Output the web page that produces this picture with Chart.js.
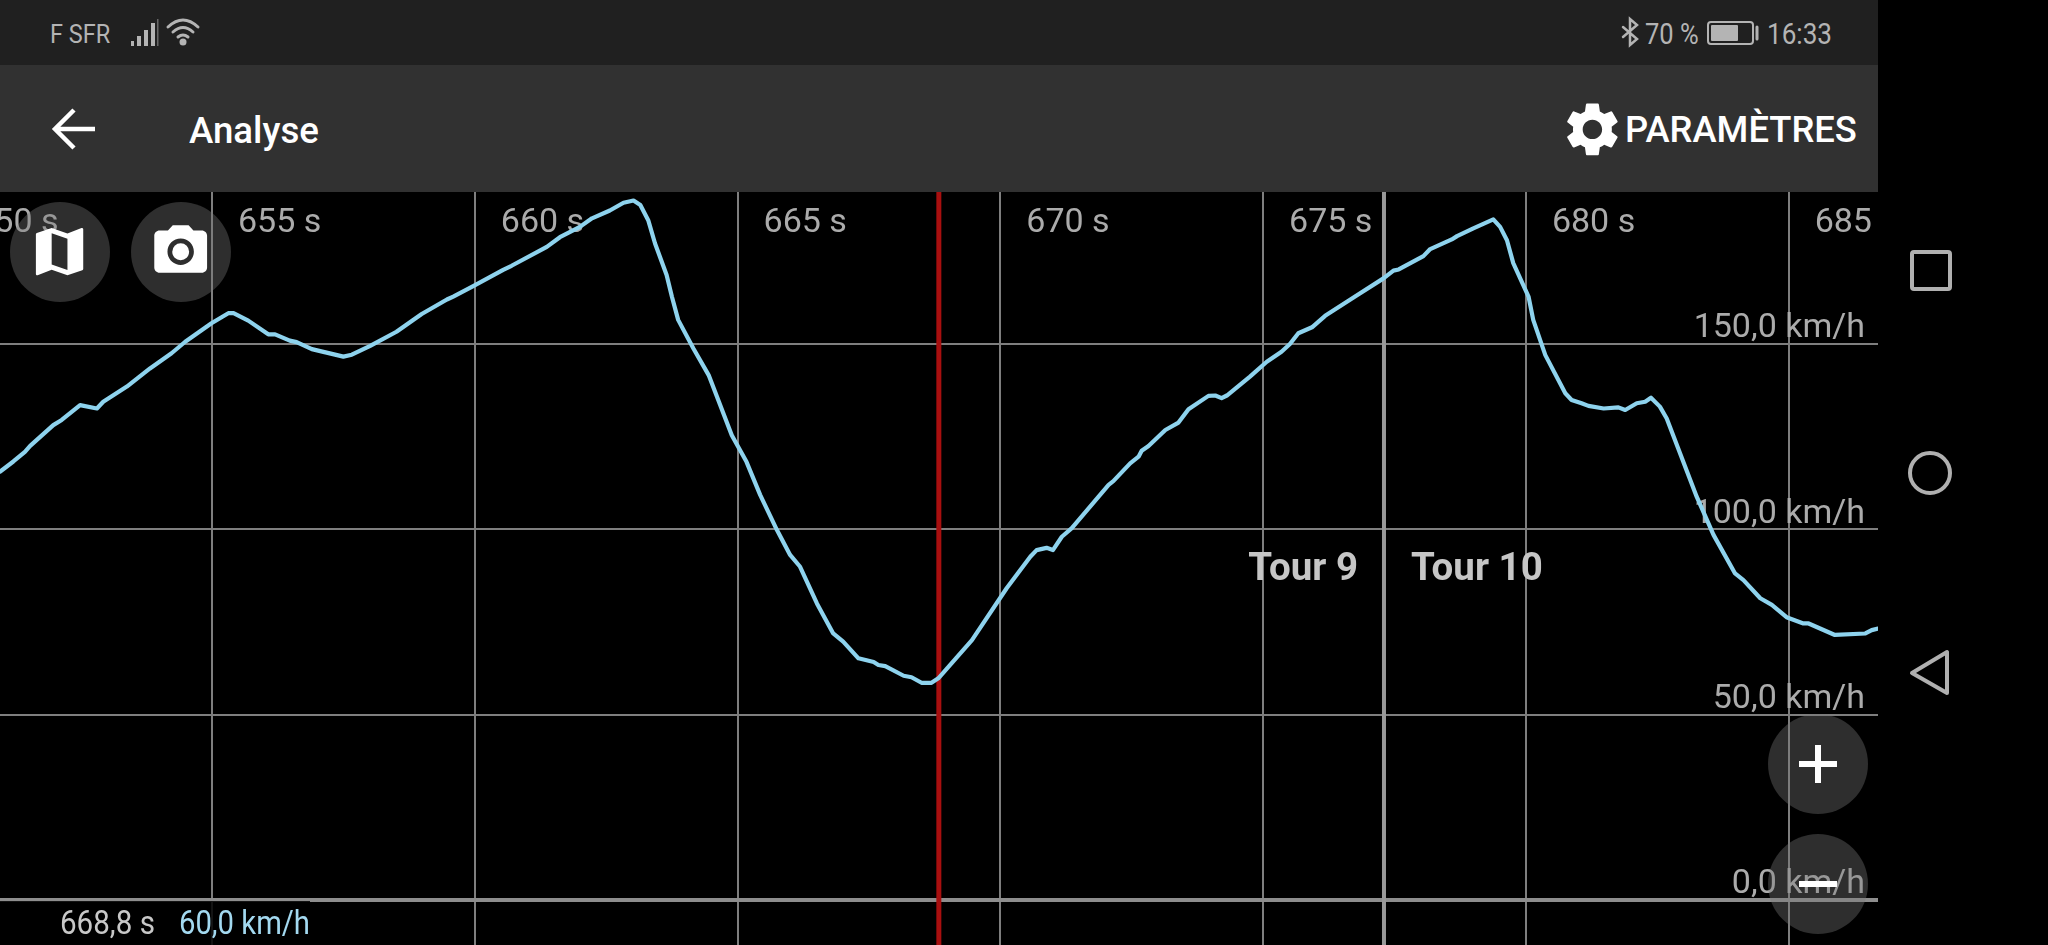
<!DOCTYPE html>
<html lang="fr">
<head>
<meta charset="utf-8">
<title>Analyse</title>
<script src="https://cdn.jsdelivr.net/npm/chart.js@4/dist/chart.umd.min.js"></script>
<style>
html, body { margin: 0; background: #000; }
body { width: 2048px; height: 945px; overflow: hidden; position: relative; font-family: Roboto, sans-serif; }
#status { position: absolute; left: 0; top: 0; width: 1878px; height: 65px; background: #202020; }
#appbar { position: absolute; left: 0; top: 65px; width: 1878px; height: 127px; background: #313131; }
#chart { position: absolute; left: 0; top: 192px; }
.txt { position: absolute; white-space: nowrap; line-height: 1; transform-origin: left top; }
.round { position: absolute; width: 100px; height: 100px; border-radius: 50%; background: rgba(120,120,120,.38); }
#readout { position: absolute; left: 0; top: 901px; width: 310px; height: 44px; background: rgba(0,0,0,.85); }
svg { position: absolute; left: 0; top: 0; overflow: visible; }
</style>
</head>
<body>
<canvas id="chart" width="1878" height="753"></canvas>
<div id="status"></div>
<div id="appbar"></div>

<div class="round" style="left:10px;top:202px"></div>
<div class="round" style="left:131px;top:202px"></div>
<div class="round" style="left:1768px;top:714px"></div>
<div class="round" style="left:1768px;top:834px"></div>
<div id="readout"></div>

<div class="txt" style="left:50px;top:22px;font-size:25px;color:#b4b4b4;transform:scaleX(.94)">F SFR</div>
<div class="txt" style="left:1645px;top:20px;font-size:29px;color:#b4b4b4;transform:scaleX(.88)">70 %</div>
<div class="txt" style="left:1767px;top:20px;font-size:29px;color:#b4b4b4;transform:scaleX(.9)">16:33</div>
<div class="txt" style="left:189px;top:112px;font-size:37px;font-weight:500;color:#fff;transform:scaleX(.99)">Analyse</div>
<div class="txt" style="left:1625px;top:112px;font-size:36px;font-weight:500;color:#fff;transform:scaleX(1.01)">PARAMÈTRES</div>
<div class="txt" style="left:60px;top:905px;font-size:34px;color:#c8c8c8;transform:scaleX(.87)">668,8 s</div>
<div class="txt" style="left:179px;top:905px;font-size:34px;color:#a3d9f0;transform:scaleX(.86)">60,0 km/h</div>

<svg width="2048" height="945">
  <!-- status bar icons -->
  <g fill="#b4b4b4">
    <rect x="131" y="41" width="3" height="5"/><rect x="137" y="36" width="4" height="10"/>
    <rect x="144" y="30" width="4" height="16"/><rect x="151" y="23" width="4" height="23"/>
    <rect x="157" y="19" width="1.5" height="27" fill="#666"/>
    <circle cx="183" cy="42" r="3.5"/>
  </g>
  <g fill="none" stroke="#b4b4b4" stroke-width="3" stroke-linecap="round">
    <path d="M168 27 Q183 13 198 27"/><path d="M173 32 Q183 23 193 32"/><path d="M178 37 Q183 33 188 37"/>
    <path d="M1623 27 L1637 39 L1630 45 V19 L1637 25 L1623 37" stroke-width="2.5"/>
    <rect x="1708" y="22" width="45" height="22" rx="3" stroke-width="2"/>
    <path d="M1757 27 V39" stroke-width="3"/>
  </g>
  <rect x="1711" y="25" width="27" height="16" rx="1" fill="#b4b4b4"/>

  <!-- app bar icons -->
  <path d="M95 129 H57 M74 110 L55 129 L74 148" fill="none" stroke="#fff" stroke-width="4.5"/>
  <path transform="translate(1560 97) scale(2.7)" fill="#fff" d="M19.14,12.94c0.04-0.3,0.06-0.61,0.06-0.94c0-0.32-0.02-0.64-0.07-0.94l2.03-1.58c0.18-0.14,0.23-0.41,0.12-0.61 l-1.92-3.32c-0.12-0.22-0.37-0.29-0.59-0.22l-2.39,0.96c-0.5-0.38-1.03-0.7-1.62-0.94L14.4,2.81c-0.04-0.24-0.24-0.41-0.48-0.41 h-3.84c-0.24,0-0.43,0.17-0.47,0.41L9.25,5.35C8.66,5.59,8.12,5.92,7.63,6.29L5.24,5.33c-0.22-0.08-0.47,0-0.59,0.22L2.74,8.87 C2.62,9.08,2.66,9.34,2.86,9.48l2.03,1.58C4.84,11.36,4.8,11.69,4.8,12s0.02,0.64,0.07,0.94l-2.03,1.58 c-0.18,0.14-0.23,0.41-0.12,0.61l1.92,3.32c0.12,0.22,0.37,0.29,0.59,0.22l2.39-0.96c0.5,0.38,1.03,0.7,1.62,0.94l0.36,2.54 c0.05,0.24,0.24,0.41,0.48,0.41h3.84c0.24,0,0.44-0.17,0.47-0.41l0.36-2.54c0.59-0.24,1.13-0.56,1.62-0.94l2.39,0.96 c0.22,0.08,0.47,0,0.59-0.22l1.92-3.32c0.12-0.22,0.07-0.47-0.12-0.61L19.14,12.94z M12,15.6c-1.98,0-3.6-1.62-3.6-3.6 s1.62-3.6,3.6-3.6s3.6,1.62,3.6,3.6S13.98,15.6,12,15.6z"/>

  <!-- floating buttons -->
  <path transform="translate(28 220) scale(2.63)" fill="#fff" d="M20.5 3l-.16.03L15 5.1 9 3 3.36 4.9c-.21.07-.36.25-.36.48V20.5c0 .28.22.5.5.5l.16-.03L9 18.9l6 2.1 5.64-1.9c.21-.07.36-.25.36-.48V3.5c0-.28-.22-.5-.5-.5zM15 19l-6-2.11V5l6 2.11V19z"/>
  <g transform="translate(149 220) scale(2.64)" fill="#fff">
    <circle cx="12" cy="12" r="3.2"/>
    <path d="M9 2L7.17 4H4c-1.1 0-2 .9-2 2v12c0 1.1.9 2 2 2h16c1.1 0 2-.9 2-2V6c0-1.1-.9-2-2-2h-3.17L15 2H9zm3 15c-2.76 0-5-2.24-5-5s2.24-5 5-5 5 2.24 5 5-2.24 5-5 5z"/>
  </g>
  <path d="M1818 745 V783 M1799 764 H1837 M1799 884 H1837" stroke="#fff" stroke-width="6" fill="none"/>

  <!-- android nav bar -->
  <g fill="none" stroke="#b0b0b0" stroke-width="4" stroke-linejoin="round">
    <rect x="1912" y="252" width="38" height="37" rx="2"/>
    <circle cx="1930" cy="473" r="20"/>
    <path d="M1912 673 L1947 652 V693 Z"/>
  </g>
</svg>

<script>
// temps (s) et vitesse (km/h)
const timeValues = [
    650.97, 651.22, 651.44, 651.54, 651.98, 652.14, 652.49, 652.81, 652.93, 653.38,
    653.82, 654.23, 654.49, 654.99, 655.31, 655.41, 655.69, 656.07, 656.20, 656.48,
    656.61, 656.90, 657.50, 657.66, 658.01, 658.51, 658.99, 659.47, 659.59, 659.97,
    660.54, 660.70, 661.37, 661.62, 662.00, 662.23, 662.57, 662.83, 663.02, 663.15,
    663.30, 663.43, 663.65, 663.75, 663.87, 664.16, 664.45, 664.89, 665.17, 665.43,
    665.75, 666.00, 666.19, 666.51, 666.82, 667.01, 667.30, 667.59, 667.68, 667.81,
    668.16, 668.31, 668.50, 668.69, 668.82, 669.46, 670.12, 670.57, 670.69, 670.88,
    671.00, 671.17, 671.36, 672.06, 672.15, 672.47, 672.63, 672.69, 672.82, 673.14,
    673.39, 673.58, 673.96, 674.09, 674.21, 674.31, 674.75, 675.07, 675.35, 675.51,
    675.67, 675.93, 676.18, 676.75, 677.29, 677.48, 677.58, 678.05, 678.18, 678.59,
    678.69, 679.00, 679.38, 679.51, 679.64, 679.76, 680.05, 680.14, 680.37, 680.75,
    680.87, 681.06, 681.19, 681.48, 681.76, 681.89, 682.11, 682.27, 682.38, 682.55,
    682.68, 683.25, 683.57, 683.98, 684.14, 684.46, 684.68, 684.96, 685.28, 685.38,
    685.88, 686.46, 686.58, 686.70
];
const speedValues = [
    115.6, 118.3, 120.9, 122.5, 128.1, 129.5, 133.5, 132.6, 134.4, 138.5,
    143.4, 147.5, 150.6, 155.6, 158.3, 158.3, 156.3, 152.6, 152.6, 150.9,
    150.5, 148.6, 146.6, 147.1, 149.5, 153.3, 158.1, 162.0, 162.8, 165.6,
    170.0, 171.1, 176.2, 178.8, 181.6, 183.9, 186.0, 188.1, 188.7, 187.5,
    183.4, 177.1, 168.6, 162.8, 156.5, 148.8, 141.6, 125.4, 118.2, 109.3,
    99.8, 93.1, 89.9, 80.0, 71.9, 69.7, 65.2, 64.2, 63.4, 63.1,
    60.5, 60.1, 58.6, 58.6, 59.8, 70.1, 84.1, 92.6, 94.4, 95.0,
    94.4, 98.0, 100.3, 112.0, 113.0, 117.8, 119.6, 121.2, 122.5, 126.8,
    128.8, 132.4, 136.0, 136.1, 135.4, 136.1, 141.2, 145.2, 147.9, 150.0,
    152.9, 154.5, 157.6, 162.8, 167.7, 169.8, 170.1, 173.7, 175.6, 178.2,
    179.1, 181.2, 183.6, 181.6, 178.0, 171.8, 162.8, 156.5, 147.0, 136.7,
    134.9, 134.0, 133.3, 132.6, 132.9, 132.2, 134.0, 134.4, 135.5, 133.1,
    129.9, 108.8, 98.5, 88.1, 86.3, 81.4, 79.6, 76.3, 74.6, 74.6,
    71.5, 71.9, 72.8, 73.2
];

const xTicks = [650, 655, 660, 665, 670, 675, 680, 685];
const xTickLabels = ['650 s', '655 s', '660 s', '665 s', '670 s', '675 s', '680 s', '685 s'];
const yTicks = [0, 50, 100, 150];
const yTickLabels = ['0,0 km/h', '50,0 km/h', '100,0 km/h', '150,0 km/h'];

const xRange = [650.966, 686.70];
const yRange = [-12.14, 191];
const cursorTime = 668.83;
const lapTime = 677.30;
const lapLabels = ['Tour 9', 'Tour 10'];
const lapLabelSpeed = 86.3;

function toPoints(xs, ys) {
    return xs.map((x, i) => ({ x: x, y: ys[i] }));
}

// l'axe ne doit prendre aucune place : la zone de tracé occupe tout le canvas
function noAxisSpace(scale) {
    if (scale.isHorizontal()) scale.height = 0;
    else scale.width = 0;
    scale.paddingTop = scale.paddingBottom = scale.paddingLeft = scale.paddingRight = 0;
}

// libellés des tours de part et d'autre de la ligne de tour
const lapLabelPlugin = {
    id: 'lapLabels',
    afterDraw(chart) {
        const ctx = chart.ctx;
        const x = chart.scales.x.getPixelForValue(lapTime);
        const y = chart.scales.y.getPixelForValue(lapLabelSpeed);
        ctx.save();
        ctx.font = '700 38.5px Roboto';
        ctx.fillStyle = '#c6c6c6';
        ctx.textBaseline = 'alphabetic';
        ctx.textAlign = 'right';
        ctx.fillText(lapLabels[0], x - 26, y);
        ctx.textAlign = 'left';
        ctx.fillText(lapLabels[1], x + 27, y);
        ctx.restore();
    }
};

new Chart(document.getElementById('chart'), {
    type: 'line',
    plugins: [lapLabelPlugin],
    data: {
        datasets: [
            {
                label: 'Vitesse',
                data: toPoints(timeValues, speedValues),
                borderColor: '#8ed3ee',
                borderWidth: 4.2,
                borderJoinStyle: 'round',
                borderCapStyle: 'round',
                pointRadius: 0,
                tension: 0,
                order: 0
            },
            {
                label: 'Curseur',
                data: toPoints([cursorTime, cursorTime], yRange),
                borderColor: '#a80f0f',
                borderWidth: 5,
                pointRadius: 0,
                order: 1
            },
            {
                label: 'Tour',
                data: toPoints([lapTime, lapTime], yRange),
                borderColor: '#999999',
                borderWidth: 4,
                pointRadius: 0,
                order: 2
            }
        ]
    },
    options: {
        responsive: false,
        animation: false,
        events: [],
        layout: { padding: 0 },
        plugins: { legend: { display: false }, tooltip: { enabled: false } },
        scales: {
            x: {
                type: 'linear',
                position: 'top',
                min: xRange[0],
                max: xRange[1],
                afterBuildTicks(scale) { scale.ticks = xTicks.map(v => ({ value: v })); },
                afterFit: noAxisSpace,
                grid: { color: '#7e7e7e', lineWidth: 2, drawTicks: false },
                border: { display: false },
                ticks: {
                    mirror: true,
                    autoSkip: false,
                    maxRotation: 0,
                    minRotation: 0,
                    align: 'start',
                    labelOffset: 26,
                    padding: 11,
                    color: '#ababab',
                    font: { family: 'Roboto', size: 34 },
                    callback: (v, i) => xTickLabels[i]
                }
            },
            y: {
                type: 'linear',
                position: 'right',
                min: yRange[0],
                max: yRange[1],
                afterBuildTicks(scale) { scale.ticks = yTicks.map(v => ({ value: v })); },
                afterFit: noAxisSpace,
                grid: {
                    color: c => c.tick.value === 0 ? '#8e8e8e' : '#7e7e7e',
                    lineWidth: c => c.tick.value === 0 ? 4 : 2,
                    drawTicks: false
                },
                border: { display: false },
                ticks: {
                    mirror: true,
                    autoSkip: false,
                    padding: -13,
                    labelOffset: -15,
                    color: '#ababab',
                    font: { family: 'Roboto', size: 34 },
                    callback: (v, i) => yTickLabels[i]
                }
            }
        }
    }
});
</script>
</body>
</html>
